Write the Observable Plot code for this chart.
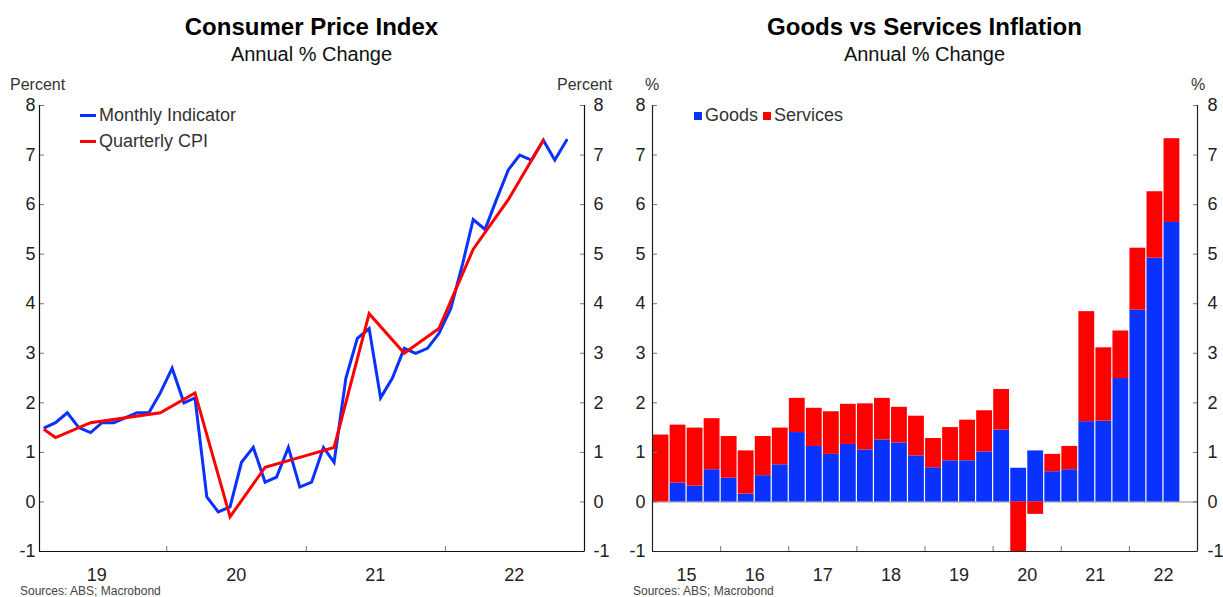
<!DOCTYPE html>
<html><head><meta charset="utf-8">
<script src="https://cdn.jsdelivr.net/npm/d3@7"></script>
<script src="https://cdn.jsdelivr.net/npm/@observablehq/plot@0.6"></script>
<style>
body{margin:0;background:#fff;font-family:"Liberation Sans",Arial,sans-serif;}
#root{position:relative;width:1223px;height:597px;overflow:hidden;background:#fff;}
.abs{position:absolute;white-space:nowrap;}
.title{font-weight:bold;font-size:24px;line-height:24px;color:#000;text-align:center;width:600px;}
.sub{font-size:20px;line-height:20px;color:#111;text-align:center;width:600px;}
.unit{font-size:16px;line-height:16px;color:#333;}
.src{font-size:12px;line-height:12px;color:#444;}
.leg{font-size:18px;line-height:18px;color:#333;}
.chart{position:absolute;top:70px;}
.chart svg{overflow:visible;}
</style></head><body><div id="root"></div>
<script>
// ---------- Data: left chart ----------
const monthlyStart = [2019, 2]; // first month (Feb 2019)
const monthlyValues = [1.5,1.6,1.8,1.5,1.4,1.6,1.6,1.7,1.8,1.8,2.2,
  2.7,2.0,2.1,0.1,-0.2,-0.1,0.8,1.1,0.4,0.5,1.1,0.3,
  0.4,1.1,0.8,2.5,3.3,3.5,2.1,2.5,3.1,3.0,3.1,3.4,
  3.9,4.8,5.7,5.5,6.1,6.7,7.0,6.9,7.3,6.9,7.3];
const quarterlyMonths = ["2019-02","2019-03","2019-06","2019-09","2019-12","2020-03","2020-06","2020-09","2020-12","2021-03","2021-06","2021-09","2021-12","2022-03","2022-06","2022-09"];
const quarterlyValues = [1.45,1.3,1.6,1.7,1.8,2.2,-0.3,0.7,0.9,1.1,3.8,3.0,3.5,5.1,6.1,7.3];
const leftYearLabels = ["19","20","21","22"];
const yTicks = [-1,0,1,2,3,4,5,6,7,8];

// ---------- Data: right chart ----------
const goodsValues = [0,0.38,0.32,0.65, 0.48,0.16,0.53,0.75, 1.40,1.12,0.96,1.16, 1.05,1.25,1.19,0.93,
  0.69,0.83,0.83,1.01, 1.45,0.68,1.03,0.61, 0.65,1.62,1.63,2.49, 3.87,4.92,5.64];
const servicesValues = [1.35,1.17,1.17,1.03, 0.84,0.87,0.79,0.74, 0.69,0.77,0.86,0.81, 0.93,0.84,0.72,0.80,
  0.59,0.67,0.82,0.83, 0.82,-1.0,-0.25,0.35, 0.47,2.22,1.48,0.96, 1.25,1.34,1.69];
const rightYearLabels = ["15","16","17","18","19","20","21","22"];

const BLUE = "#0a32ff", RED = "#ff0000";
const root = document.getElementById("root");
const fmtY = d => String(d);

// ---------- Left chart ----------
const monthly = monthlyValues.map((v, i) => ({date: new Date(Date.UTC(monthlyStart[0], monthlyStart[1] - 1 + i, 15)), value: v}));
const quarterly = quarterlyMonths.map((m, i) => {
  const [y, mo] = m.split("-").map(Number);
  return {date: new Date(Date.UTC(y, mo - 1, 15)), value: quarterlyValues[i]};
});
const lx0 = new Date(Date.UTC(2019, 1, 1)), lx1 = new Date(Date.UTC(2023, 0, 1));
const leftYears = leftYearLabels.map(s => 2000 + +s);
const yearStarts = leftYears.slice(1).map(y => new Date(Date.UTC(y, 0, 1)));
const yearMids = leftYears.map(y => new Date(Date.UTC(y, 6, 1)));

const left = Plot.plot({
  width: 611, height: 520, marginLeft: 39, marginRight: 27, marginTop: 35, marginBottom: 39,
  style: {fontFamily: "Liberation Sans, Arial, sans-serif", fontSize: "18px", color: "#222", background: "transparent", overflow: "visible"},
  x: {type: "utc", domain: [lx0, lx1], label: null},
  y: {domain: [-1, 8], label: null},
  marks: [
    Plot.axisY(yTicks, {anchor: "left", tickSize: -5, tickPadding: 9, stroke: "#777", tickFormat: fmtY, label: null}),
    Plot.axisY(yTicks, {anchor: "right", tickSize: -5, tickPadding: 14, stroke: "#777", tickFormat: fmtY, label: null}),
    Plot.axisX(yearStarts, {anchor: "bottom", tickSize: -5, tickFormat: () => "", stroke: "#777", label: null}),
    Plot.axisX(yearMids, {anchor: "bottom", tickSize: 0, tickPadding: 17, tickFormat: (d, i) => leftYearLabels[i], label: null}),
    Plot.ruleX([lx0, lx1], {stroke: "#111", strokeWidth: 1.2}),
    Plot.ruleY([-1], {stroke: "#111", strokeWidth: 1.2}),
    Plot.line(monthly, {x: "date", y: "value", stroke: BLUE, strokeWidth: 3, strokeLinejoin: "miter", strokeMiterlimit: 4}),
    Plot.line(quarterly, {x: "date", y: "value", stroke: RED, strokeWidth: 3, strokeLinejoin: "miter", strokeMiterlimit: 4})
  ]
});
const lwrap = document.createElement("div");
lwrap.className = "chart"; lwrap.style.left = "0px"; lwrap.style.width = "611px";
lwrap.appendChild(left); root.appendChild(lwrap);

// ---------- Right chart ----------
const bars = [];
goodsValues.forEach((g, i) => {
  const s = servicesValues[i];
  bars.push({i, series: "Goods", y1: 0, y2: g});
  const base = s >= 0 ? Math.max(g, 0) : Math.min(g, 0);
  bars.push({i, series: "Services", y1: base, y2: base + s});
});
const nSlots = rightYearLabels.length * 4;
const right = Plot.plot({
  width: 612, height: 520, marginLeft: 41, marginRight: 26, marginTop: 35, marginBottom: 39,
  style: {fontFamily: "Liberation Sans, Arial, sans-serif", fontSize: "18px", color: "#222", background: "transparent", overflow: "visible"},
  x: {type: "linear", domain: [0, nSlots], label: null},
  y: {domain: [-1, 8], label: null},
  marks: [
    Plot.ruleY([0], {stroke: "#b4b4b4", strokeWidth: 1.5}),
    Plot.rect(bars, {x1: d => d.i, x2: d => d.i + 1, y1: "y1", y2: "y2",
      fill: d => d.series === "Goods" ? BLUE : RED, insetLeft: 0.6, insetRight: 0.6}),
    Plot.axisY(yTicks, {anchor: "left", tickSize: -5, tickPadding: 12, stroke: "#777", tickFormat: fmtY, label: null}),
    Plot.axisY(yTicks, {anchor: "right", tickSize: -5, tickPadding: 15, stroke: "#777", tickFormat: fmtY, label: null}),
    Plot.axisX(d3.range(4, nSlots, 4), {anchor: "bottom", tickSize: -5, tickFormat: () => "", stroke: "#777", label: null}),
    Plot.axisX(d3.range(2, nSlots, 4), {anchor: "bottom", tickSize: 0, tickPadding: 17, tickFormat: (d, i) => rightYearLabels[i], label: null}),
    Plot.ruleX([0, nSlots], {stroke: "#222", strokeWidth: 1.2}),
    Plot.ruleY([-1], {stroke: "#222", strokeWidth: 1.2})
  ]
});
const rwrap = document.createElement("div");
rwrap.className = "chart"; rwrap.style.left = "611px"; rwrap.style.width = "612px";
rwrap.appendChild(right); root.appendChild(rwrap);

// ---------- Texts ----------
function addText(cls, text, css) {
  const el = document.createElement("div");
  el.className = "abs " + cls;
  el.textContent = text;
  Object.assign(el.style, css);
  root.appendChild(el);
  return el;
}
function addBox(css) {
  const el = document.createElement("div");
  el.className = "abs";
  Object.assign(el.style, css);
  root.appendChild(el);
}
addText("title", "Consumer Price Index", {left: "11.5px", top: "15px"});
addText("sub", "Annual % Change", {left: "11.5px", top: "44px"});
addText("title", "Goods vs Services Inflation", {left: "624.5px", top: "15px"});
addText("sub", "Annual % Change", {left: "624.5px", top: "44px"});
addText("unit", "Percent", {left: "10px", top: "77px"});
addText("unit", "Percent", {left: "557px", top: "77px"});
addText("unit", "%", {left: "645px", top: "77px"});
addText("unit", "%", {left: "1191px", top: "77px"});
addText("src", "Sources: ABS; Macrobond", {left: "20px", top: "585px"});
addText("src", "Sources: ABS; Macrobond", {left: "633px", top: "585px"});
// left legend
addBox({left: "80px", top: "113.5px", width: "16px", height: "3.5px", background: BLUE});
addText("leg", "Monthly Indicator", {left: "99px", top: "106px"});
addBox({left: "80px", top: "139.5px", width: "16px", height: "3.5px", background: RED});
addText("leg", "Quarterly CPI", {left: "99px", top: "132px"});
// right legend
addBox({left: "694px", top: "112px", width: "8px", height: "8px", background: BLUE});
addText("leg", "Goods", {left: "705px", top: "106px"});
addBox({left: "763px", top: "112px", width: "8px", height: "8px", background: RED});
addText("leg", "Services", {left: "774px", top: "106px"});
</script></body></html>
